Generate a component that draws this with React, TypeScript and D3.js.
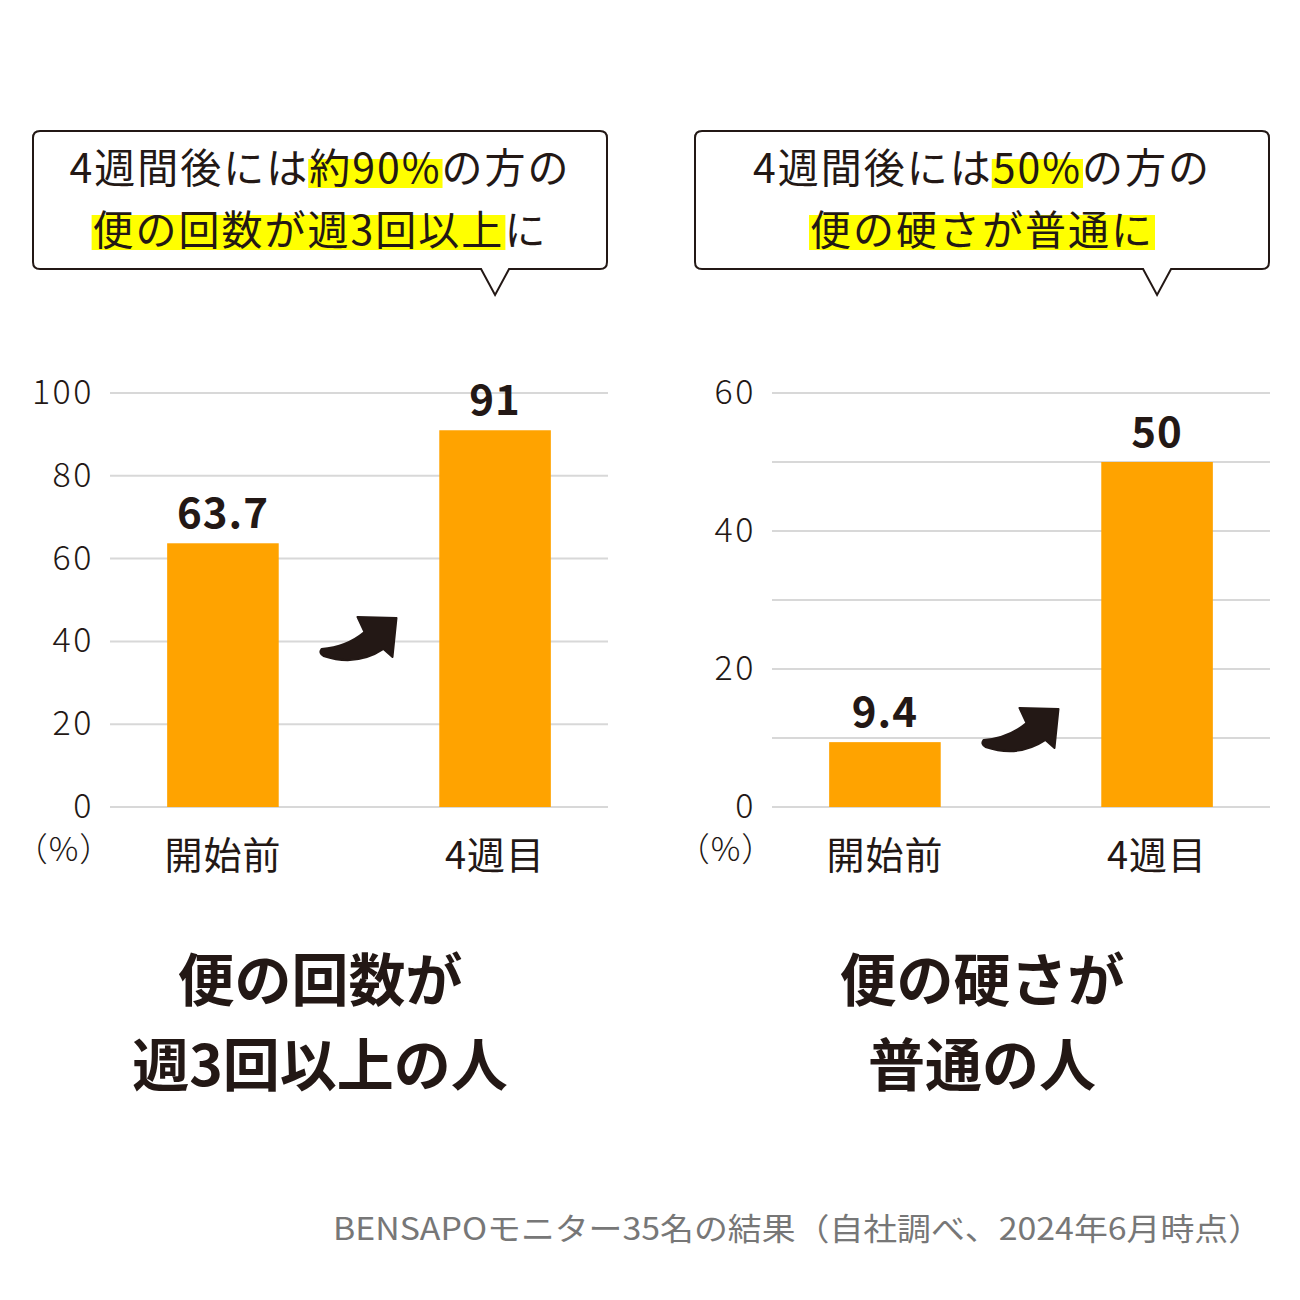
import React, { useLayoutEffect, useRef, useState } from "react";
import * as d3 from "d3";

const categories = ["開始前", "4週目"];
const freqValues = [63.7, 91];
const hardValues = [9.4, 50];
const freqTicks = [0, 20, 40, 60, 80, 100];
const freqGrid = [0, 20, 40, 60, 80, 100];
const hardTicks = [0, 20, 40, 60];
const hardGrid = [0, 10, 20, 30, 40, 50, 60];
const freqCallout = [
  [{ t: "4週間後には", hl: false }, { t: "約90%", hl: true }, { t: "の方の", hl: false }],
  [{ t: "便の回数が週3回以上", hl: true }, { t: "に", hl: false }],
];
const hardCallout = [
  [{ t: "4週間後には", hl: false }, { t: "50%", hl: true }, { t: "の方の", hl: false }],
  [{ t: "便の硬さが普通に", hl: true }],
];
const freqTitle = ["便の回数が", "週3回以上の人"];
const hardTitle = ["便の硬さが", "普通の人"];
const unitLabel = "（%）";
const footer = "BENSAPOモニター35名の結果（自社調べ、2024年6月時点）";

const FONT = "'Noto Sans CJK JP', 'Noto Sans', sans-serif";
const DARK = "#231815";
const ORANGE = "#FFA300";
const GRID = "#d8d8d8";
const YELLOW = "#FFFF00";

type Seg = { t: string; hl: boolean };

function CalloutText({ lines, cx, baselines, fontSize }: { lines: Seg[][]; cx: number; baselines: number[]; fontSize: number }) {
  const refs = useRef<(SVGTextElement | null)[]>([]);
  const [rects, setRects] = useState<{ x: number; y: number; w: number; h: number }[]>([]);
  useLayoutEffect(() => {
    const out: { x: number; y: number; w: number; h: number }[] = [];
    lines.forEach((segs, li) => {
      const el = refs.current[li];
      if (!el) return;
      const tspans = el.querySelectorAll("tspan");
      segs.forEach((s, si) => {
        if (!s.hl) return;
        const ts = tspans[si] as SVGTSpanElement;
        const bb = ts.getBBox();
        const top = li === 0 ? baselines[li] - 24 : baselines[li] - 30;
        out.push({ x: bb.x - 1, y: top, w: bb.width + 2, h: baselines[li] + 5 - top });
      });
    });
    setRects(out);
  }, []);
  return (
    <g>
      {rects.map((r, i) => (
        <rect key={i} x={r.x} y={r.y} width={r.w} height={r.h} fill={YELLOW} />
      ))}
      {lines.map((segs, li) => (
        <text
          key={li}
          ref={(e) => (refs.current[li] = e)}
          x={cx}
          y={baselines[li]}
          textAnchor="middle"
          fontFamily={FONT}
          fontSize={fontSize}
          letterSpacing={2}
          fill={DARK}
        >
          {segs.map((s, si) => (
            <tspan key={si}>{s.t}</tspan>
          ))}
        </text>
      ))}
    </g>
  );
}

function Arrow({ x, y }: { x: number; y: number }) {
  const d = "M0,-3 Q25,-5 43,-20 L36,-35 L75,-34 L71,5 L62,-3 Q35,15 2,4 Q-3,1 0,-3 Z";
  return <path d={d} transform={`translate(${x},${y})`} fill={DARK} stroke={DARK} strokeWidth={2} strokeLinejoin="round" />;
}

function Panel({
  x0, x1, values, domainMax, ticks, grid, callout, title, arrowY,
}: {
  x0: number; x1: number; values: number[]; domainMax: number; ticks: number[]; grid: number[];
  callout: Seg[][]; title: string[]; arrowY: number;
}) {
  const y = d3.scaleLinear().domain([0, domainMax]).range([807, 393]);
  const x = d3.scaleBand<string>().domain(categories).range([x0, x1]).paddingInner(0.59).paddingOuter(0.21);
  const bw = x.bandwidth();
  const c0 = (x(categories[0]) as number) + bw / 2;
  const c1 = (x(categories[1]) as number) + bw / 2;
  const mid = (c0 + c1) / 2;
  const bx0 = x0 - 77, bx1 = x1 - 1, by0 = 131, by1 = 269, r = 7;
  const tx = c1;
  const box = `M${bx0 + r},${by0} H${bx1 - r} Q${bx1},${by0} ${bx1},${by0 + r} V${by1 - r} Q${bx1},${by1} ${bx1 - r},${by1} H${tx + 14} L${tx},${by1 + 26} L${tx - 14},${by1} H${bx0 + r} Q${bx0},${by1} ${bx0},${by1 - r} V${by0 + r} Q${bx0},${by0} ${bx0 + r},${by0} Z`;
  const boxCx = (bx0 + bx1) / 2;
  return (
    <g>
      <path d={box} fill="#fff" stroke={DARK} strokeWidth={2} />
      <CalloutText lines={callout} cx={boxCx} baselines={[183, 245]} fontSize={41} />
      {grid.map((g) => (
        <line key={g} x1={x0} x2={x1} y1={y(g)} y2={y(g)} stroke={GRID} strokeWidth={2} />
      ))}
      {ticks.map((t) => (
        <text key={t} x={x0 - 16} y={y(t) + 11} textAnchor="end" fontFamily={FONT} fontSize={34} fontWeight={300} letterSpacing={2.5} fill={DARK}>
          {t}
        </text>
      ))}
      <text x={x0 - 46} y={861} textAnchor="middle" fontFamily={FONT} fontSize={33} fontWeight={300} letterSpacing={1} fill={DARK}>
        {unitLabel}
      </text>
      {values.map((v, i) => (
        <g key={i}>
          <rect x={x(categories[i]) as number} y={y(v)} width={bw} height={y(0) - y(v)} fill={ORANGE} />
          <text x={(x(categories[i]) as number) + bw / 2} y={y(v) - 15} textAnchor="middle" fontFamily={FONT} fontSize={42} fontWeight={700} letterSpacing={1} fill={DARK}>
            {v}
          </text>
          <text x={(x(categories[i]) as number) + bw / 2} y={869} textAnchor="middle" fontFamily={FONT} fontSize={38} fontWeight={400} letterSpacing={1} fill={DARK}>
            {categories[i]}
          </text>
        </g>
      ))}
      <Arrow x={mid - 37.5} y={arrowY} />
      {title.map((t, i) => (
        <text key={i} x={boxCx} y={1001 + i * 85} textAnchor="middle" fontFamily={FONT} fontSize={57} fontWeight={700} fill={DARK}>
          {t}
        </text>
      ))}
    </g>
  );
}

export default function App() {
  return (
    <svg width={1300} height={1300} style={{ position: "absolute", left: 0, top: 0, background: "#fff" }}>
      <rect width={1300} height={1300} fill="#fff" />
      <Panel x0={110} x1={608} values={freqValues} domainMax={100} ticks={freqTicks} grid={freqGrid} callout={freqCallout} title={freqTitle} arrowY={652} />
      <Panel x0={772} x1={1270} values={hardValues} domainMax={60} ticks={hardTicks} grid={hardGrid} callout={hardCallout} title={hardTitle} arrowY={743} />
      <text x={1262} y={1240} textAnchor="end" fontFamily={FONT} fontSize={31} fill="#777" textLength={929} lengthAdjust="spacingAndGlyphs">
        {footer}
      </text>
    </svg>
  );
}
